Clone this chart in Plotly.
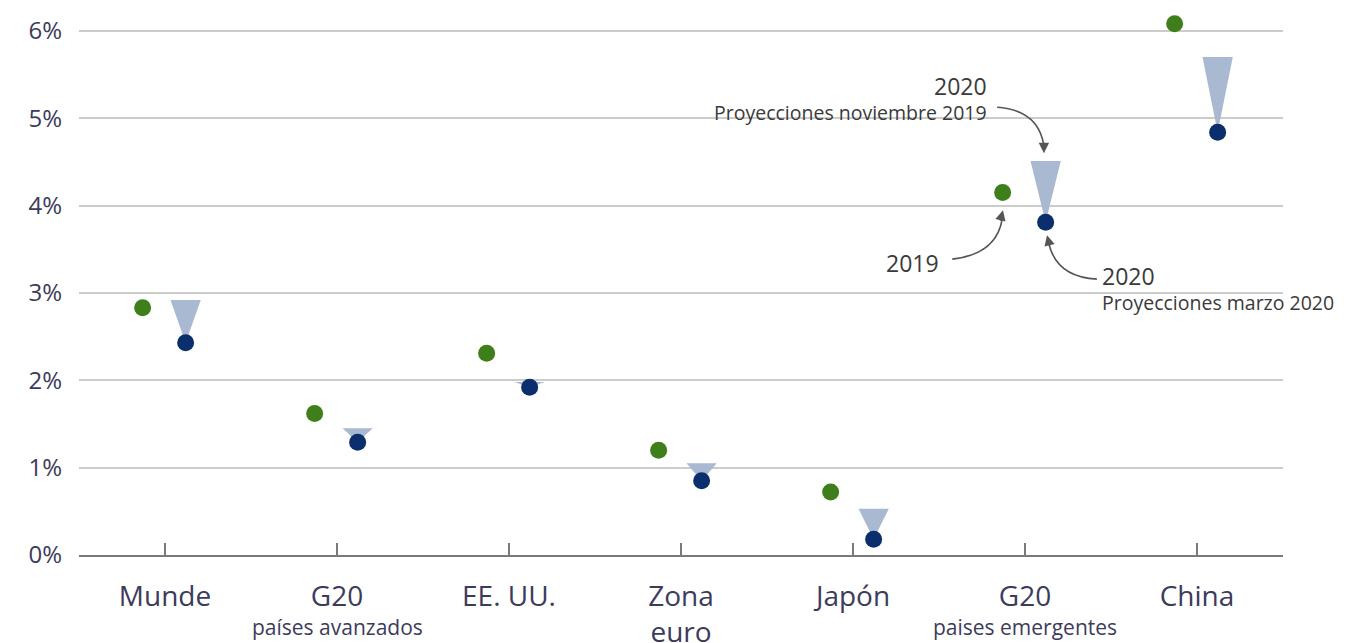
import plotly.graph_objects as go

categories = ["Munde", "G20", "EE. UU.", "Zona<br>euro", "Japón", "G20", "China"]
sublabels = ["", "países avanzados", "", "", "", "paises emergentes", ""]
growth_2019 = [2.83, 1.62, 2.31, 1.20, 0.72, 4.15, 6.08]
proj_nov_2019 = [2.92, 1.45, 1.98, 1.05, 0.53, 4.51, 5.70]
proj_mar_2020 = [2.43, 1.29, 1.92, 0.85, 0.18, 3.81, 4.84]
y_ticks = [0, 1, 2, 3, 4, 5, 6]
y_ticktext = ["0%", "1%", "2%", "3%", "4%", "5%", "6%"]

GREEN = "#3f7f1b"
NAVY = "#0b2f6c"
TRI = "#a9b9d1"
TXT = "#3d3b5c"
off_g, off_n, half_w = -0.13, 0.12, 0.088

fig = go.Figure()

# triangles from Nov 2019 projection to Mar 2020 projection
for i, (top, bot) in enumerate(zip(proj_nov_2019, proj_mar_2020)):
    xc = i + off_n
    fig.add_trace(go.Scatter(
        x=[xc - half_w, xc + half_w, xc, xc - half_w],
        y=[top, top, bot, top],
        mode="lines", fill="toself", fillcolor=TRI,
        line=dict(width=0, color=TRI), hoverinfo="skip", showlegend=False))

xs = list(range(len(categories)))
fig.add_trace(go.Scatter(
    x=[i + off_g for i in xs], y=growth_2019, mode="markers",
    marker=dict(size=17, color=GREEN), showlegend=False, cliponaxis=False))
fig.add_trace(go.Scatter(
    x=[i + off_n for i in xs], y=proj_mar_2020, mode="markers",
    marker=dict(size=17, color=NAVY), showlegend=False, cliponaxis=False))

# sub labels under category names
for i, s in enumerate(sublabels):
    if s:
        fig.add_annotation(x=i, y=0, xref="x", yref="paper", yshift=-72,
                           text=s, showarrow=False, yanchor="middle",
                           font=dict(size=21, color=TXT, family="Open Sans"))

# explanatory labels
ann_font_big = dict(size=23, color="#3a3a3a", family="Open Sans")
ann_font_small = dict(size=19.5, color="#3a3a3a", family="Open Sans")
fig.add_annotation(x=4.79, y=5.37, text="2020", showarrow=False, xanchor="right",
                   yanchor="middle", font=ann_font_big)
fig.add_annotation(x=4.79, y=5.06, text="Proyecciones noviembre 2019", showarrow=False,
                   xanchor="right", yanchor="middle", font=ann_font_small)
fig.add_annotation(x=4.51, y=3.34, text="2019", showarrow=False, xanchor="right",
                   yanchor="middle", font=ann_font_big)
fig.add_annotation(x=5.435, y=3.19, text="2020", showarrow=False, xanchor="left",
                   yanchor="middle", font=ann_font_big)
fig.add_annotation(x=5.435, y=2.89, text="Proyecciones marzo 2020", showarrow=False,
                   xanchor="left", yanchor="middle", font=ann_font_small)

# curved arrows
arrows = [
    ((4.838, 5.126), (5.081, 5.092), (5.110, 4.680), (5.110, 4.600), 0, -12),
    ((4.577, 3.387), (4.832, 3.444), (4.867, 3.840), (4.872, 3.947), -3, 12),
    ((5.418, 3.158), (5.186, 3.181), (5.139, 3.560), (5.128, 3.661), 3, 12),
]
for (s, c, e, tip, axp, ayp) in arrows:
    fig.add_shape(type="path",
                  path=f"M {s[0]},{s[1]} Q {c[0]},{c[1]} {e[0]},{e[1]}",
                  xref="x", yref="y", line=dict(color="#555555", width=1.6))
    fig.add_annotation(x=tip[0], y=tip[1], xref="x", yref="y", ax=axp, ay=ayp,
                       text="", showarrow=True, arrowhead=2, arrowsize=1.3,
                       arrowwidth=1.6, arrowcolor="#555555", standoff=0)

fig.update_xaxes(
    range=[-0.5, 6.5], tickmode="array", tickvals=xs, ticktext=categories,
    showgrid=False, zeroline=False, showline=True, linecolor="#7a7a7a", linewidth=2,
    ticks="inside", ticklen=12, tickwidth=2, tickcolor="#7a7a7a", automargin=False,
    tickfont=dict(size=28, color=TXT, family="Open Sans"), ticklabelstandoff=15)
fig.update_yaxes(
    range=[0, 6.25], tickmode="array", tickvals=y_ticks, ticktext=y_ticktext,
    showgrid=True, gridcolor="#cccccc", gridwidth=2, zeroline=False, automargin=False,
    tickfont=dict(size=24, color=TXT, family="Open Sans"), ticklabelstandoff=16)

fig.update_layout(
    width=1347, height=643, margin=dict(l=71, r=72, t=1, b=96),
    plot_bgcolor="white", paper_bgcolor="white", showlegend=False)

fig.write_html("out.html")
